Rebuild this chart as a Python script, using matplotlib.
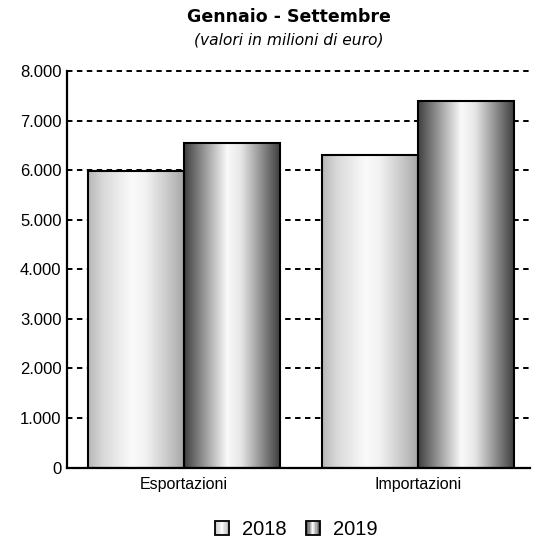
import matplotlib

matplotlib.use('Agg')
import matplotlib.pyplot as plt
import numpy as np
from matplotlib.patches import Rectangle
from matplotlib.legend_handler import HandlerBase
from matplotlib.ticker import FuncFormatter

categories = ["Esportazioni", "Importazioni"]
years = ["2018", "2019"]
values_2018 = [5980, 6300]
values_2019 = [6550, 7390]
yticks = [0, 1000, 2000, 3000, 4000, 5000, 6000, 7000, 8000]

# grey level across the bar width (0 = left edge, 1 = right edge)
prof_x = [0.0, 0.15, 0.45, 0.6, 0.85, 1.0]
light = [0.72, 0.85, 0.98, 0.95, 0.78, 0.66]
dark = [0.26, 0.5, 0.98, 0.9, 0.5, 0.26]


def grad(levels, n=64):
    g = np.interp(np.linspace(0, 1, n), prof_x, levels)
    return np.dstack([g, g, g]).reshape(1, n, 3)


plt.rcParams['font.family'] = ['Liberation Sans', 'DejaVu Sans']
fig = plt.figure(figsize=(5.39, 5.43), dpi=100)
ax = fig.add_axes([0.1243, 0.139, 0.859, 0.73])

w = 0.41
x = np.arange(len(categories))
for vals, off, lev in [(values_2018, -w / 2, light), (values_2019, w / 2, dark)]:
    bars = ax.bar(x + off, vals, width=w, facecolor='none', edgecolor='black',
                  linewidth=1.5, zorder=4)
    for b in bars:
        x0, y0 = b.get_x(), b.get_y()
        im = ax.imshow(grad(lev), extent=[x0, x0 + b.get_width(), y0, y0 + b.get_height()],
                       aspect='auto', zorder=3, interpolation='bilinear')
        im.set_clip_path(b)

ax.set_xlim(-0.5, 1.48)
ax.set_ylim(0, 8000)
ax.set_yticks(yticks)
ax.yaxis.set_major_formatter(FuncFormatter(lambda v, p: f"{int(v):,}".replace(",", ".")))
ax.set_xticks(x)
ax.set_xticklabels(categories, fontsize=11.5)
ax.tick_params(axis='x', length=0, pad=7)
ax.tick_params(axis='y', length=0, labelsize=12, pad=4)
for t in yticks[1:]:
    ax.axhline(t, linestyle=(0, (2.8, 2.3)), color='black', linewidth=1.4, zorder=1,
               clip_on=False)
for s in ['top', 'right']:
    ax.spines[s].set_visible(False)
for s in ['left', 'bottom']:
    ax.spines[s].set_linewidth(1.6)
    ax.spines[s].set_zorder(5)

fig.text(0.536, 0.969, "Gennaio - Settembre", ha='center', va='center',
         fontsize=12.5, fontweight='bold', family='DejaVu Sans')
fig.text(0.536, 0.926, "(valori in milioni di euro)", ha='center', va='center',
         fontsize=11.2, style='italic', family='DejaVu Sans')


class GradHandler(HandlerBase):
    def __init__(self, levels):
        super().__init__()
        self.levels = levels

    def create_artists(self, legend, orig, xd, yd, width, height, fontsize, trans):
        n = 12
        g = np.interp(np.linspace(0, 1, n), prof_x, self.levels)
        arts = []
        for i in range(n):
            arts.append(Rectangle((xd + width * i / n, yd), width / n + 0.2, height,
                                  facecolor=str(g[i]), edgecolor='none', transform=trans))
        arts.append(Rectangle((xd, yd), width, height, facecolor='none',
                              edgecolor='black', linewidth=1.3, transform=trans))
        return arts


h1 = Rectangle((0, 0), 1, 1)
h2 = Rectangle((0, 0), 1, 1)
leg = fig.legend([h1, h2], years, loc='center', bbox_to_anchor=(0.55, 0.025), ncol=2,
                 frameon=False, fontsize=14.5, handlelength=0.7, handleheight=0.7,
                 handletextpad=0.65, columnspacing=0.95,
                 handler_map={h1: GradHandler(light), h2: GradHandler(dark)})

fig.savefig("out.png", dpi=100)
